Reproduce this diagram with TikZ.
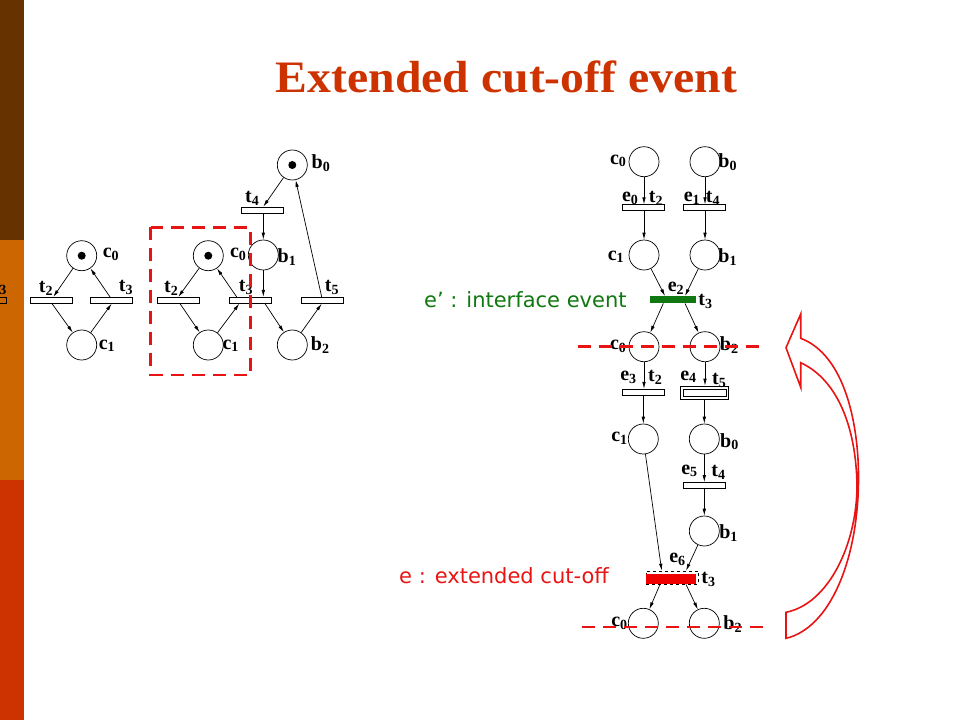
\documentclass[tikz,border=0pt]{standalone}
\usepackage{fontspec}
\setmainfont{Liberation Serif}
\newfontfamily\sansf{DejaVu Sans}
\usetikzlibrary{arrows.meta,calc}
\definecolor{brownbar}{RGB}{102,51,0}
\definecolor{orangebar}{RGB}{204,102,0}
\definecolor{redbar}{RGB}{204,51,0}
\definecolor{titlecol}{RGB}{204,51,0}
\definecolor{dgreen}{RGB}{16,120,16}
\definecolor{cutred}{RGB}{232,20,20}
\definecolor{barred}{RGB}{240,0,0}
\newcommand\pl[2]{\textbf{#1}\raisebox{-0.3ex}{\fontsize{14}{14}\selectfont\textbf{#2}}}
\begin{document}
\begin{tikzpicture}[x=1pt,y=-1pt,
 place/.style={circle,draw,minimum size=30pt,inner sep=0pt,line width=0.7pt},
 trans/.style={rectangle,draw,fill=white,minimum width=42pt,minimum height=6pt,inner sep=0pt,line width=0.7pt},
 lbl/.style={inner sep=0pt,font=\fontsize{20}{20}\selectfont},
 arc/.style={-{Latex[length=7pt,width=3.5pt]},line width=0.7pt},
 tokdot/.style={circle,fill=black,minimum size=8pt,inner sep=0pt},
 reddash/.style={draw=cutred,line width=2.6pt,dash pattern=on 13pt off 8pt},
]
\useasboundingbox (0,0) rectangle (960,720);
% side bar
\fill[brownbar] (0,0) rectangle (24,240);
\fill[orangebar] (0,240) rectangle (24,480);
\fill[redbar] (0,480) rectangle (24,720);
% clipped remnant at the left edge
\begin{scope}
\clip (0,278) rectangle (10,310);
\node[trans,fill=none] (Zt3) at (-14.7,300) {};
\node[lbl] (Zt3l) at (-0.4,288) {\pl{t}{3}};
\end{scope}
% title
\node[anchor=base,text=titlecol,inner sep=0pt,font=\fontsize{45}{45}\selectfont\bfseries] (title) at (506.5,92) {\scalebox{1.06}[1]{Extended cut-off event}};

% ---------- net 1 ----------
\node[place] (Ac0) at (81.7,255.7) {};
\node[tokdot] (Ac0tok) at (Ac0.center) {};
\node[trans] (At2) at (51.5,300.3) {};
\node[trans] (At3) at (111.5,300.3) {};
\node[place] (Ac1) at (81.7,345) {};
\node[lbl] (Ac0l) at (110.8,254) {\pl{c}{0}};
\node[lbl] (At2l) at (45.8,288.3) {\pl{t}{2}};
\node[lbl] (At3l) at (125.8,287.5) {\pl{t}{3}};
\node[lbl] (Ac1l) at (106.7,345.8) {\pl{c}{1}};
\draw[arc] (Ac0) -- ([xshift=1.8pt]At2.north);
\draw[arc] ([xshift=0.5pt]At2.south) -- (Ac1);
\draw[arc] (Ac1) -- ([xshift=0.2pt]At3.south);
\draw[arc] ([xshift=-1.5pt]At3.north) -- (Ac0);

% ---------- net 2 ----------
\node[place] (Bc0) at (208.3,255.7) {};
\node[tokdot] (Bc0tok) at (Bc0.center) {};
\node[trans] (Bt2) at (178.3,300.3) {};
\node[trans] (Bt3) at (250,300.3) {};
\node[place] (Bc1) at (208.3,345) {};
\node[place] (Bb0) at (292.3,165) {};
\node[tokdot] (Bb0tok) at (Bb0.center) {};
\node[trans] (Bt4) at (262.3,210) {};
\node[place] (Bb1) at (263.3,255) {};
\node[place] (Bb2) at (292.3,345) {};
\node[trans] (Bt5) at (322.5,300.3) {};
\node[lbl] (Bc0l) at (238,254) {\pl{c}{0}};
\node[lbl] (Bt2l) at (171,288.3) {\pl{t}{2}};
\node[lbl] (Bt3l) at (245.8,287.5) {\pl{t}{3}};
\node[lbl] (Bc1l) at (230.5,345.8) {\pl{c}{1}};
\node[lbl] (Bb0l) at (320.8,163.3) {\pl{b}{0}};
\node[lbl] (Bt4l) at (252,198.3) {\pl{t}{4}};
\node[lbl] (Bb1l) at (286.7,256.7) {\pl{b}{1}};
\node[lbl] (Bb2l) at (320,345) {\pl{b}{2}};
\node[lbl] (Bt5l) at (331.7,287.5) {\pl{t}{5}};
\draw[arc] (Bc0) -- (Bt2.north);
\draw[arc] ([xshift=1.7pt]Bt2.south) -- (Bc1);
\draw[arc] (Bc1) -- ([xshift=-10.7pt]Bt3.south);
\draw[arc] ([xshift=-13.3pt]Bt3.north) -- (Bc0);
\draw[arc] (Bb0) -- ([xshift=1pt]Bt4.north);
\draw[arc] ([xshift=1pt]Bt4.south) -- (Bb1);
\draw[arc] (Bb1) -- ([xshift=13.3pt]Bt3.north);
\draw[arc] ([xshift=15pt]Bt3.south) -- (Bb2);
\draw[arc] (Bb2) -- ([xshift=-0.8pt]Bt5.south);
\draw[arc] ([xshift=-0.8pt]Bt5.north) -- (Bb0);
\draw[reddash] (150.7,227.3) rectangle (250.7,375);

% ---------- unfolding ----------
\node[place] (Cc0) at (644,161.7) {};
\node[place] (Cb0) at (705,161.7) {};
\node[trans] (Ce0) at (643,207.7) {};
\node[trans] (Ce1) at (704.7,207.7) {};
\node[place] (Cc1) at (644,255) {};
\node[place] (Cb1) at (705,255) {};
\node[rectangle,fill=dgreen,minimum width=46pt,minimum height=7pt,inner sep=0pt] (Ce2) at (673,299.7) {};
\node[place] (Cc0b) at (644,346.7) {};
\node[place] (Cb2) at (705,346.7) {};
\node[trans] (Ce3) at (643,392.2) {};
\node[trans,minimum width=47.6pt,minimum height=13.3pt] (Ce4o) at (704.5,392.7) {};
\node[trans,minimum width=42.7pt,minimum height=6.7pt] (Ce4) at (704.6,392.7) {};
\node[place] (Cc1b) at (643.3,439) {};
\node[place] (Cb0b) at (704.3,439) {};
\node[trans] (Ce5) at (704.7,485.5) {};
\node[place] (Cb1b) at (704.3,531) {};
\node[rectangle,draw,dashed,line width=0.6pt,minimum width=52.3pt,minimum height=13pt,inner sep=0pt] (Ce6box) at (672.2,577.5) {};
\node[rectangle,fill=barred,minimum width=50pt,minimum height=10pt,inner sep=0pt] (Ce6) at (671,579.2) {};
\node[place] (Cc0c) at (643.3,623.3) {};
\node[place] (Cb2c) at (704.3,623.3) {};
% labels
\node[lbl] (Cc0l) at (618,160.8) {\pl{c}{0}};
\node[lbl] (Cb0l) at (727.5,162.5) {\pl{b}{0}};
\node[lbl] (Ce0l) at (630,198.3) {\pl{e}{0}};
\node[lbl] (Ce0t) at (655.8,198.3) {\pl{t}{2}};
\node[lbl] (Ce1l) at (691.7,198.3) {\pl{e}{1}};
\node[lbl] (Ce1t) at (712.8,198.3) {\pl{t}{4}};
\node[lbl] (Cc1l) at (615.8,256.7) {\pl{c}{1}};
\node[lbl] (Cb1l) at (727.5,256.7) {\pl{b}{1}};
\node[lbl] (Ce2l) at (675.8,288.3) {\pl{e}{2}};
\node[lbl] (Ce2t) at (705.3,301.7) {\pl{t}{3}};
\node[lbl] (Cc0bl) at (618,346.7) {\pl{c}{0}};
\node[lbl] (Cb2l) at (729,345) {\pl{b}{2}};
\node[lbl] (Ce3l) at (628.3,377.5) {\pl{e}{3}};
\node[lbl] (Ce3t) at (655,377.5) {\pl{t}{2}};
\node[lbl] (Ce4l) at (688.3,376.7) {\pl{e}{4}};
\node[lbl] (Ce4t) at (719,380.8) {\pl{t}{5}};
\node[lbl] (Cc1bl) at (619.2,438.3) {\pl{c}{1}};
\node[lbl] (Cb0bl) at (729.2,441.7) {\pl{b}{0}};
\node[lbl] (Ce5l) at (689.2,470.8) {\pl{e}{5}};
\node[lbl] (Ce5t) at (718.3,472.5) {\pl{t}{4}};
\node[lbl] (Cb1bl) at (728.3,533.3) {\pl{b}{1}};
\node[lbl] (Ce6l) at (677.2,559.2) {\pl{e}{6}};
\node[lbl] (Ce6t) at (708.3,579.2) {\pl{t}{3}};
\node[lbl] (Cc0cl) at (619.2,623.3) {\pl{c}{0}};
\node[lbl] (Cb2cl) at (732.5,624.2) {\pl{b}{2}};
% arcs
\draw[arc] (Cc0) -- ([xshift=1pt]Ce0.north);
\draw[arc] ([xshift=1pt]Ce0.south) -- (Cc1);
\draw[arc] (Cb0) -- ([xshift=0.3pt]Ce1.north);
\draw[arc] ([xshift=0.3pt]Ce1.south) -- (Cb1);
\draw[arc] (Cc1) -- ([xshift=-8pt]Ce2.north);
\draw[arc] (Cb1) -- ([xshift=12pt]Ce2.north);
\draw[arc] ([xshift=-9.7pt]Ce2.south) -- (Cc0b);
\draw[arc] ([xshift=12pt]Ce2.south) -- (Cb2);
\draw[arc] (Cc0b) -- ([xshift=1pt]Ce3.north);
\draw[arc] ([xshift=0.3pt]Ce3.south) -- (Cc1b);
\draw[arc] (Cb2) -- ([xshift=0.5pt]Ce4o.north);
\draw[arc] ([xshift=-0.2pt]Ce4o.south) -- (Cb0b);
\draw[arc] (Cb0b) -- ([xshift=-0.4pt]Ce5.north);
\draw[arc] ([xshift=-0.4pt]Ce5.south) -- (Cb1b);
\draw[arc] (Cc1b) -- ([xshift=-10.5pt]Ce6box.north);
\draw[arc] (Cb1b) -- ([xshift=13.8pt]Ce6box.north);
\draw[arc] ([xshift=-11pt]Ce6.south) -- (Cc0c);
\draw[arc] ([xshift=15pt]Ce6.south) -- (Cb2c);
% cut lines
\coordinate (cutAw) at (578,346.5);
\coordinate (cutAe) at (760,346.5);
\coordinate (cutBw) at (582,627);
\coordinate (cutBe) at (765,627);
\draw[reddash] (cutAw) -- (cutAe);
\draw[reddash] (cutBw) -- (cutBe);
% text labels
\node[anchor=base west,text=dgreen,inner sep=0pt,font=\sansf\fontsize{21}{21}\selectfont] (ilabel) at (424,307) {e’ : interface event};
\node[anchor=base west,text=cutred,inner sep=0pt,font=\sansf\fontsize{21}{21}\selectfont] (clabel) at (399,583) {e : extended cut-off};
% big hollow curved arrow
\draw[cutred,line width=1.6pt,line join=miter]
  (786,347.7) -- (800.7,314) -- (800.7,338.3)
  .. controls (845,355) and (859,425) .. (858.5,480)
  .. controls (858,560) and (830,628) .. (786,638.3)
  -- (786,612.3)
  .. controls (828,604) and (857,545) .. (857,485)
  .. controls (856,428) and (838,380) .. (800.7,362.7)
  -- (800.7,387.3) -- cycle;
\end{tikzpicture}
\end{document}
